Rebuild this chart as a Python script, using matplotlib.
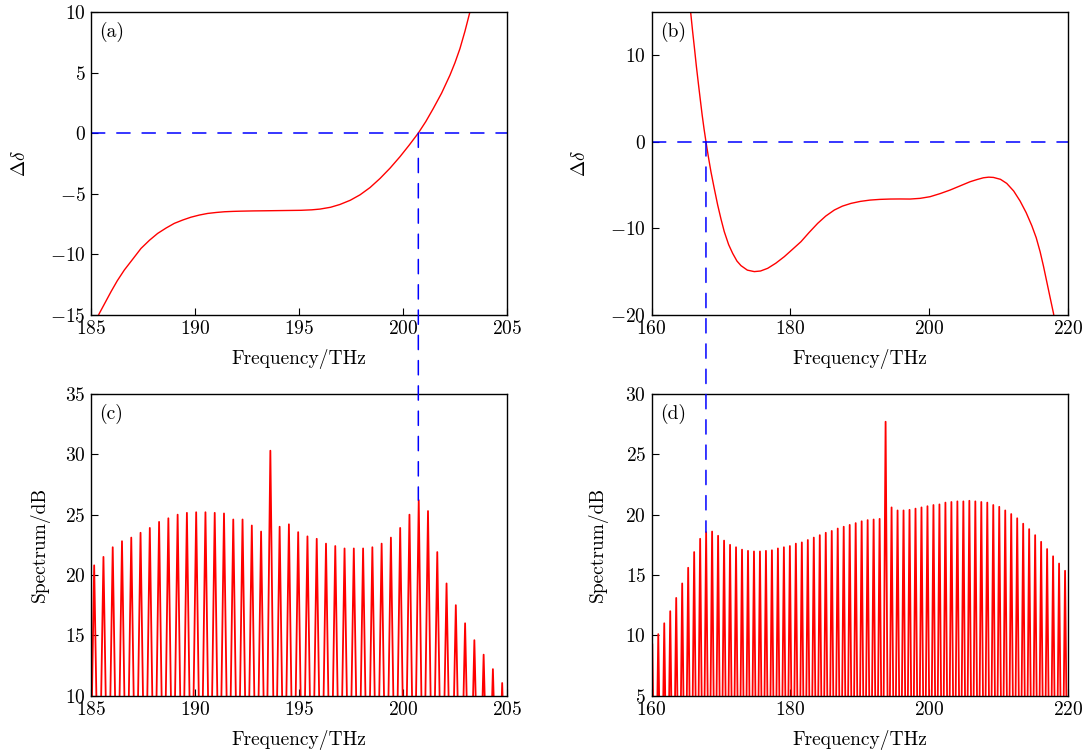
import numpy as np
import matplotlib
matplotlib.use("Agg")
import matplotlib.pyplot as plt
from matplotlib.patches import ConnectionPatch

# (a) phase mismatch around 185-205 THz
freq_a = [185.3, 185.39, 185.7, 185.95, 186.25, 186.59, 187.0, 187.39, 187.8,
          188.19, 188.6, 188.99, 189.4, 189.79, 190.2, 190.59, 191.0, 191.4,
          191.8, 192.2, 192.8, 193.32, 194.2, 195.08, 195.6, 195.99, 196.5,
          196.95, 197.45, 197.92, 198.4, 198.88, 199.36, 199.84, 200.28, 200.72,
          201.08, 201.44, 201.84, 202.24, 202.48, 202.72, 202.96, 203.2, 203.3]
delta_a = [-15.2, -14.89, -13.9, -13.1, -12.2, -11.31, -10.4, -9.53, -8.85,
           -8.29, -7.84, -7.46, -7.18, -6.95, -6.77, -6.64, -6.56, -6.5,
           -6.47, -6.45, -6.43, -6.42, -6.40, -6.38, -6.34, -6.28, -6.13,
           -5.9, -5.55, -5.1, -4.5, -3.75, -2.9, -1.95, -1.0, 0.0,
           0.95, 2.03, 3.3, 4.78, 5.8, 6.97, 8.4, 10.0, 10.7]

# (b) phase mismatch around 160-220 THz
freq_b = [165.5, 165.62, 165.9, 166.2, 166.45, 166.73, 167.0, 167.28, 167.55,
          167.83, 168.2, 168.55, 169.0, 169.52, 170.0, 170.47, 171.1, 171.68,
          172.3, 172.88, 173.8, 174.8, 175.7, 176.73, 177.9, 179.13, 180.3,
          181.53, 182.7, 183.94, 185.1, 186.34, 187.5, 188.75, 190.1, 191.49,
          192.9, 194.37, 195.8, 197.26, 198.7, 200.14, 201.6, 203.03, 204.5,
          205.91, 206.9, 207.84, 208.6, 209.28, 210.3, 211.2, 212.2, 213.12,
          214.0, 214.81, 215.45, 216.01, 216.5, 216.97, 217.45, 217.94, 218.1]
delta_b = [15.9, 15.0, 12.8, 10.6, 8.7, 6.77, 4.95, 3.1, 1.5,
           0.0, -1.85, -3.48, -5.3, -7.32, -8.95, -10.4, -11.9, -12.91,
           -13.8, -14.33, -14.85, -15.02, -14.95, -14.64, -14.05, -13.29, -12.45,
           -11.56, -10.5, -9.44, -8.6, -7.9, -7.45, -7.13, -6.9, -6.75,
           -6.67, -6.63, -6.62, -6.63, -6.55, -6.36, -6.0, -5.59, -5.1,
           -4.63, -4.38, -4.17, -4.1, -4.13, -4.35, -4.82, -5.7, -6.85,
           -8.2, -9.7, -11.1, -12.71, -14.4, -16.18, -18.0, -19.84, -20.6]

# (c) comb spectrum, line powers in dB
comb_c_start = 185.14
comb_c_step = 0.4457
peaks_c = [20.8, 21.5, 22.3, 22.8, 23.1, 23.5, 23.9, 24.4, 24.7, 25.0,
           25.15, 25.2, 25.2, 25.15, 25.1, 24.6, 24.6, 24.1, 23.6, 30.3,
           24.0, 24.2, 23.55, 23.2, 23.0, 22.6, 22.4, 22.2, 22.2, 22.2,
           22.3, 22.6, 23.1, 23.9, 25.0, 26.2, 25.3, 21.9, 19.3, 17.5,
           16.0, 14.6, 13.4, 12.2, 11.05]
floor_c = -2.0

# (d) comb spectrum, line powers in dB
comb_d_start = 160.09
comb_d_step = 0.8626
peaks_d = [9.3, 10.1, 11.0, 12.0, 13.1, 14.3, 15.6, 16.9, 18.0, 18.55,
           18.6, 18.25, 17.85, 17.5, 17.3, 17.1, 17.0, 16.95, 16.95, 17.0,
           17.05, 17.2, 17.3, 17.4, 17.6, 17.7, 17.9, 18.1, 18.3, 18.5,
           18.65, 18.85, 19.0, 19.15, 19.3, 19.45, 19.55, 19.6, 19.65, 27.7,
           20.6, 20.35, 20.35, 20.4, 20.5, 20.6, 20.7, 20.8, 20.85, 21.0,
           21.05, 21.1, 21.1, 21.15, 21.1, 21.05, 21.0, 20.8, 20.65, 20.35,
           20.05, 19.7, 19.25, 18.8, 18.3, 17.75, 17.15, 16.55, 15.95, 15.35]
floor_d = -8.0

# zero crossings of the mismatch curves
zero_a = 200.72
zero_b = 167.83

DASH = (0, (10.3, 7.9))


def comb_trace(start, step, peaks, floor):
    f = start + step * np.arange(len(peaks))
    xs = np.empty(2 * len(f) + 1)
    ys = np.full(2 * len(f) + 1, floor)
    xs[1::2] = f
    xs[0::2] = np.append(f - step / 2, f[-1] + step / 2)
    ys[1::2] = peaks
    return f, xs, ys


def style(ax, label, ypad):
    ax.tick_params(direction="in", top=False, right=False, length=5,
                   width=0.8, labelsize=14, pad=4)
    for s in ax.spines.values():
        s.set_linewidth(1.0)
    ax.text(0.02, 0.935, label, transform=ax.transAxes, fontsize=14,
            ha="left", va="center")
    ax.set_xlabel("Frequency/THz", fontsize=14, labelpad=8)
    ax.yaxis.labelpad = ypad


def main():
    plt.rcParams["font.family"] = "serif"
    plt.rcParams["font.serif"] = ["cmr10"]
    plt.rcParams["mathtext.fontset"] = "cm"
    plt.rcParams["axes.formatter.use_mathtext"] = True
    plt.rcParams["lines.scale_dashes"] = False

    fig = plt.figure(figsize=(10.89, 7.53), dpi=100)
    ax_a = fig.add_axes([0.0838, 0.5821, 0.3821, 0.402])
    ax_b = fig.add_axes([0.5984, 0.5821, 0.3821, 0.402])
    ax_c = fig.add_axes([0.0838, 0.0761, 0.3821, 0.4007])
    ax_d = fig.add_axes([0.5984, 0.0761, 0.3821, 0.4007])

    # top row: mismatch curves
    ax_a.plot(freq_a, delta_a, "r-", lw=1.0)
    ax_a.axhline(0, color="b", lw=1.1, linestyle=DASH)
    ax_a.set_xlim(185, 205)
    ax_a.set_ylim(-15, 10)
    ax_a.set_xticks([185, 190, 195, 200, 205])
    ax_a.set_yticks([-15, -10, -5, 0, 5, 10])
    ax_a.set_ylabel(r"$\Delta\delta$", fontsize=14)
    style(ax_a, "(a)", 15)

    ax_b.plot(freq_b, delta_b, "r-", lw=1.0)
    ax_b.axhline(0, color="b", lw=1.1, linestyle=DASH)
    ax_b.set_xlim(160, 220)
    ax_b.set_ylim(-20, 15)
    ax_b.set_xticks([160, 180, 200, 220])
    ax_b.set_yticks([-20, -10, 0, 10])
    ax_b.set_ylabel(r"$\Delta\delta$", fontsize=14)
    style(ax_b, "(b)", 15.5)

    # bottom row: comb spectra
    f_c, xs, ys = comb_trace(comb_c_start, comb_c_step, peaks_c, floor_c)
    ax_c.plot(xs, ys, "r-", lw=1.3)
    ax_c.set_xlim(185, 205)
    ax_c.set_ylim(10, 35)
    ax_c.set_xticks([185, 190, 195, 200, 205])
    ax_c.set_yticks([10, 15, 20, 25, 30, 35])
    ax_c.set_ylabel("Spectrum/dB", fontsize=14)
    style(ax_c, "(c)", 11)

    f_d, xs, ys = comb_trace(comb_d_start, comb_d_step, peaks_d, floor_d)
    ax_d.plot(xs, ys, "r-", lw=1.3)
    ax_d.set_xlim(160, 220)
    ax_d.set_ylim(5, 30)
    ax_d.set_xticks([160, 180, 200, 220])
    ax_d.set_yticks([5, 10, 15, 20, 25, 30])
    ax_d.set_ylabel("Spectrum/dB", fontsize=14)
    style(ax_d, "(d)", 12.5)

    # dashed drop lines from the zero crossing to the matching comb line
    for ax_top, ax_bot, x0, f, peaks in [(ax_a, ax_c, zero_a, f_c, peaks_c),
                                         (ax_b, ax_d, zero_b, f_d, peaks_d)]:
        top = peaks[int(np.argmin(np.abs(f - x0)))]
        con = ConnectionPatch(xyA=(x0, 0), coordsA=ax_top.transData,
                              xyB=(x0, top), coordsB=ax_bot.transData,
                              color="b", lw=1.1, linestyle=DASH)
        fig.add_artist(con)

    fig.savefig("out.png", dpi=100)


if __name__ == '__main__':
    main()
